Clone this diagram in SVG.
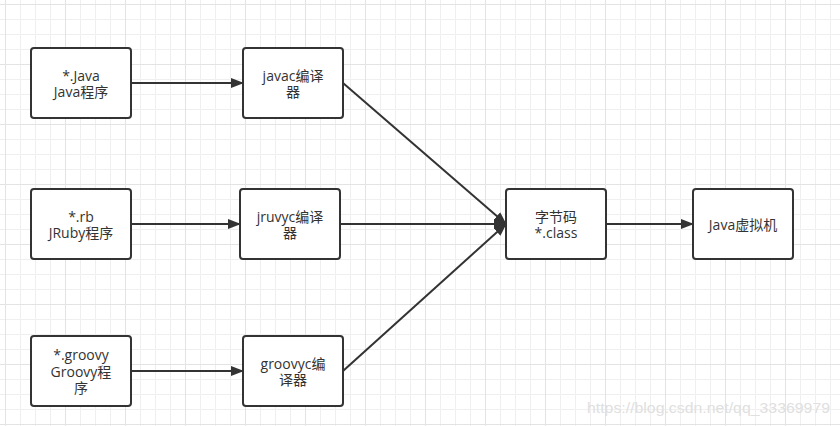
<svg xmlns="http://www.w3.org/2000/svg" width="840" height="426" viewBox="0 0 840 426">
<style>
.box{fill:#fff;stroke:#333;stroke-width:2}
.t{font-family:"Open Sans","Noto Sans CJK SC",sans-serif;font-size:14px;fill:#333;text-anchor:middle}
.c{stroke:#333;stroke-width:2;fill:none;marker-end:url(#ah)}
.wm{font-family:"Liberation Sans",Arial,sans-serif;font-size:14px;fill:#e0e0e0}
</style>
<defs>
<marker id="ah" markerUnits="userSpaceOnUse" markerWidth="14" markerHeight="12" refX="12" refY="5" orient="auto" viewBox="0 0 14 10">
<path d="M0,0 L13,5 L0,10 Z" fill="#333"/>
</marker>
<pattern id="minor" width="15" height="15" patternUnits="userSpaceOnUse" x="5" y="4">
<path d="M0,0 H15 M0,0 V15" stroke="#efefef" stroke-width="1" fill="none" transform="translate(0.5,0.5)"/>
</pattern>
<pattern id="major" width="60" height="60" patternUnits="userSpaceOnUse" x="5" y="4">
<path d="M0,0 H60 M0,0 V60" stroke="#e3e3e3" stroke-width="1" fill="none" transform="translate(0.5,0.5)"/>
</pattern>
</defs>
<rect width="840" height="426" fill="#fff"/>
<rect width="840" height="426" fill="url(#minor)"/>
<rect width="840" height="426" fill="url(#major)"/>
<g id="connectors">
<line class="c" x1="131" y1="83" x2="243" y2="83"/>
<line class="c" x1="131" y1="224" x2="240" y2="224"/>
<line class="c" x1="131" y1="371" x2="243" y2="371"/>
<line class="c" x1="343" y1="83" x2="506" y2="224"/>
<line class="c" x1="340" y1="224" x2="506" y2="224"/>
<line class="c" x1="343" y1="371" x2="506" y2="224"/>
<line class="c" x1="606" y1="224" x2="693" y2="224"/>
</g>
<g id="n-java">
<rect class="box" x="31" y="48" width="100" height="70" rx="3"/>
<text class="t" x="81" y="81">*.Java</text>
<text class="t" x="81" y="97">Java程序</text>
</g>
<g id="n-javac">
<rect class="box" x="243" y="48" width="100" height="70" rx="3"/>
<text class="t" x="293" y="81">javac编译</text>
<text class="t" x="293" y="97">器</text>
</g>
<g id="n-rb">
<rect class="box" x="31" y="189" width="100" height="70" rx="3"/>
<text class="t" x="81" y="222">*.rb</text>
<text class="t" x="81" y="238">JRuby程序</text>
</g>
<g id="n-jruvyc">
<rect class="box" x="240" y="189" width="100" height="70" rx="3"/>
<text class="t" x="290" y="222">jruvyc编译</text>
<text class="t" x="290" y="238">器</text>
</g>
<g id="n-groovy">
<rect class="box" x="31" y="336" width="100" height="70" rx="3"/>
<text class="t" x="81" y="360">*.groovy</text>
<text class="t" x="81" y="377">Groovy程</text>
<text class="t" x="81" y="393">序</text>
</g>
<g id="n-groovyc">
<rect class="box" x="243" y="336" width="100" height="70" rx="3"/>
<text class="t" x="293" y="369">groovyc编</text>
<text class="t" x="293" y="385">译器</text>
</g>
<g id="n-class">
<rect class="box" x="506" y="189" width="100" height="70" rx="3"/>
<text class="t" x="556" y="222">字节码</text>
<text class="t" x="556" y="238">*.class</text>
</g>
<g id="n-jvm">
<rect class="box" x="693" y="189" width="100" height="70" rx="3"/>
<text class="t" x="743" y="230">Java虚拟机</text>
</g>
<text class="wm" x="587" y="413" textLength="243" lengthAdjust="spacingAndGlyphs">https://blog.csdn.net/qq_33369979</text>
</svg>
